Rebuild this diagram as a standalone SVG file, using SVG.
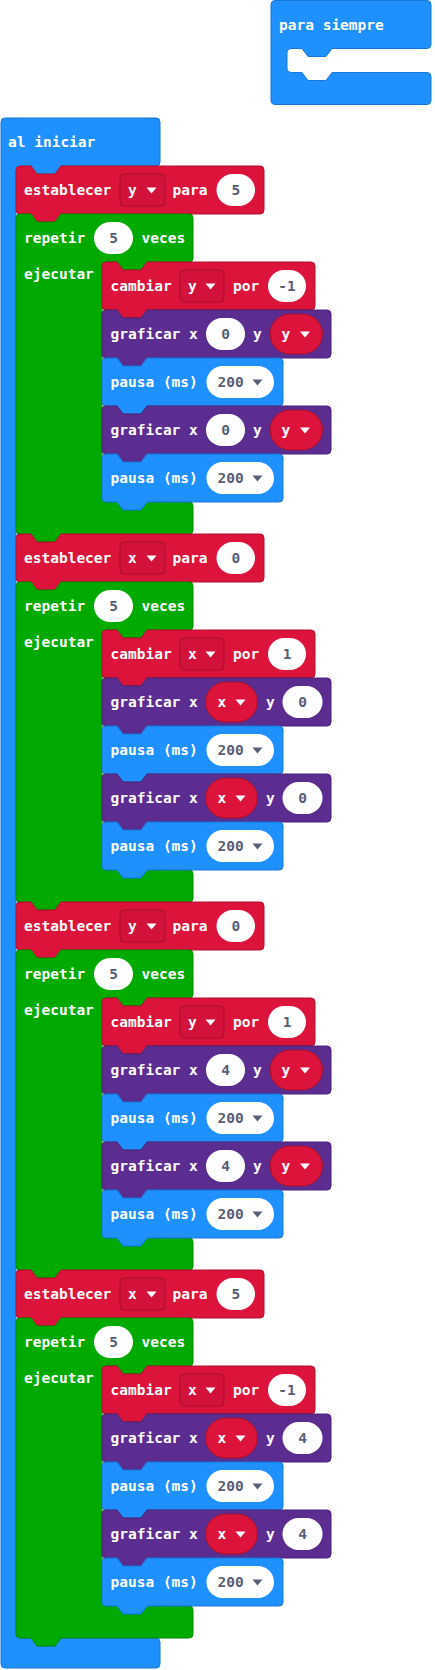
<svg xmlns="http://www.w3.org/2000/svg" xmlns:xlink="http://www.w3.org/1999/xlink" width="435" height="1670" viewBox="0 0 435 1670">
<style>
.t{font-family:"DejaVu Sans Mono","Liberation Mono",monospace;font-size:14.5px;font-weight:bold;fill:#fff}
.n{fill:#575E75}
.m{text-anchor:middle}
.blue{fill:#1E90FF;stroke:#1877D6;stroke-width:1}
.red{fill:#DC143C;stroke:#B0102F;stroke-width:1}
.green{fill:#00AA00;stroke:#008A00;stroke-width:1}
.purple{fill:#5C2D91;stroke:#4A2475;stroke-width:1}
.oval{fill:#fff}
.dd{fill:#D2123A;stroke:#A50F2C;stroke-width:1}
.rep{fill:#DC143C;stroke:#A50F2C;stroke-width:1}
.tw{fill:#fff}
.tg{fill:#575E75}
</style>
<defs>
<path id="sEst" d="M0,4 a4,4 0 0 1 4,-4 H15 l6,8 h18 l6,-8 H244 a4,4 0 0 1 4,4 V44 a4,4 0 0 1 -4,4 H45 l-6,8 h-18 l-6,-8 H4 a4,4 0 0 1 -4,-4 Z"/>
<path id="sCam" d="M0,4 a4,4 0 0 1 4,-4 H15 l6,8 h18 l6,-8 H209 a4,4 0 0 1 4,4 V44 a4,4 0 0 1 -4,4 H45 l-6,8 h-18 l-6,-8 H4 a4,4 0 0 1 -4,-4 Z"/>
<path id="sGra" d="M0,4 a4,4 0 0 1 4,-4 H15 l6,8 h18 l6,-8 H225 a4,4 0 0 1 4,4 V44 a4,4 0 0 1 -4,4 H45 l-6,8 h-18 l-6,-8 H4 a4,4 0 0 1 -4,-4 Z"/>
<path id="sPau" d="M0,4 a4,4 0 0 1 4,-4 H15 l6,8 h18 l6,-8 H177 a4,4 0 0 1 4,4 V44 a4,4 0 0 1 -4,4 H45 l-6,8 h-18 l-6,-8 H4 a4,4 0 0 1 -4,-4 Z"/>
<path id="sRep" d="M0,4 a4,4 0 0 1 4,-4 H15 l6,8 h18 l6,-8 H173 a4,4 0 0 1 4,4 V44 a4,4 0 0 1 -4,4 H131 l-6,8 h-18 l-6,-8 H90 a4,4 0 0 0 -4,4 V284 a4,4 0 0 0 4,4 H101 l6,8 h18 l6,-8 H173 a4,4 0 0 1 4,4 V316 a4,4 0 0 1 -4,4 H45 l-6,8 h-18 l-6,-8 H4 a4,4 0 0 1 -4,-4 Z"/>
</defs>

<g id="para-siempre" transform="translate(271,0.5)">
<path class="blue" d="M0,4 a4,4 0 0 1 4,-4 H156 a4,4 0 0 1 4,4 V44 a4,4 0 0 1 -4,4 H61 l-6,8 h-18 l-6,-8 H20 a4,4 0 0 0 -4,4 V68 a4,4 0 0 0 4,4 H31 l6,8 h18 l6,-8 H156 a4,4 0 0 1 4,4 V100 a4,4 0 0 1 -4,4 H4 a4,4 0 0 1 -4,-4 Z"/>
<text class="t" x="8" y="29.5">para siempre</text>
</g>

<g id="al-iniciar" transform="translate(1,118)">
<path class="blue" d="M0,4 a4,4 0 0 1 4,-4 H155 a4,4 0 0 1 4,4 V44 a4,4 0 0 1 -4,4 H60 l-6,8 h-18 l-6,-8 H19 a4,4 0 0 0 -4,4 V1516 a4,4 0 0 0 4,4 H30 l6,8 h18 l6,-8 H155 a4,4 0 0 1 4,4 V1546 a4,4 0 0 1 -4,4 H4 a4,4 0 0 1 -4,-4 Z"/>
<text class="t" x="7" y="29">al iniciar</text>
</g>

<!-- Group 1 -->
<g id="establecer-1" transform="translate(16,166)">
<use xlink:href="#sEst" class="red"/>
<text class="t" x="8" y="29">establecer</text>
<rect class="dd" x="104" y="8" width="45" height="32" rx="4"/>
<text class="t" x="112" y="29">y</text>
<polygon class="tw" points="130.5,21.5 140.5,21.5 135.5,27.5"/>
<text class="t" x="156.5" y="29">para</text>
<rect class="oval" x="200.5" y="8" width="38.5" height="32" rx="16"/>
<text class="t n m" x="219.8" y="29">5</text>
</g>
<g id="repetir-1" transform="translate(16,214)">
<use xlink:href="#sRep" class="green"/>
<text class="t" x="8" y="29">repetir</text>
<rect class="oval" x="78" y="8" width="39" height="32" rx="16"/>
<text class="t n m" x="97.5" y="29">5</text>
<text class="t" x="125.5" y="29">veces</text>
<text class="t" x="8" y="65">ejecutar</text>
</g>
<g id="cambiar-1" transform="translate(102,262)">
<use xlink:href="#sCam" class="red"/>
<text class="t" x="8.5" y="29">cambiar</text>
<rect class="dd" x="78" y="8" width="44" height="32" rx="4"/>
<text class="t" x="86" y="29">y</text>
<polygon class="tw" points="103.5,21.5 113.5,21.5 108.5,27.5"/>
<text class="t" x="131" y="29">por</text>
<rect class="oval" x="166" y="8" width="38" height="32" rx="16"/>
<text class="t n m" x="185" y="29">-1</text>
</g>
<g id="graficar-1a" transform="translate(102,310)">
<use xlink:href="#sGra" class="purple"/>
<text class="t" x="8.5" y="29">graficar x</text>
<rect class="oval" x="104" y="8" width="39" height="32" rx="16"/>
<text class="t n m" x="123.5" y="29">0</text>
<text class="t" x="151" y="29">y</text>
<rect class="rep" x="168" y="4" width="52.5" height="40" rx="20"/>
<text class="t" x="179.5" y="29">y</text>
<polygon class="tw" points="198,21.5 208,21.5 203,27.5"/>
</g>
<g id="pausa-1a" transform="translate(102,358)">
<use xlink:href="#sPau" class="blue"/>
<text class="t" x="8.5" y="29">pausa (ms)</text>
<rect class="oval" x="104.5" y="8" width="67.5" height="32" rx="16"/>
<text class="t n" x="115.5" y="29">200</text>
<polygon class="tg" points="150.5,21.5 160.5,21.5 155.5,27.5"/>
</g>
<g id="graficar-1b" transform="translate(102,406)">
<use xlink:href="#sGra" class="purple"/>
<text class="t" x="8.5" y="29">graficar x</text>
<rect class="oval" x="104" y="8" width="39" height="32" rx="16"/>
<text class="t n m" x="123.5" y="29">0</text>
<text class="t" x="151" y="29">y</text>
<rect class="rep" x="168" y="4" width="52.5" height="40" rx="20"/>
<text class="t" x="179.5" y="29">y</text>
<polygon class="tw" points="198,21.5 208,21.5 203,27.5"/>
</g>
<g id="pausa-1b" transform="translate(102,454)">
<use xlink:href="#sPau" class="blue"/>
<text class="t" x="8.5" y="29">pausa (ms)</text>
<rect class="oval" x="104.5" y="8" width="67.5" height="32" rx="16"/>
<text class="t n" x="115.5" y="29">200</text>
<polygon class="tg" points="150.5,21.5 160.5,21.5 155.5,27.5"/>
</g>

<!-- Group 2 -->
<g id="establecer-2" transform="translate(16,534)">
<use xlink:href="#sEst" class="red"/>
<text class="t" x="8" y="29">establecer</text>
<rect class="dd" x="104" y="8" width="45" height="32" rx="4"/>
<text class="t" x="112" y="29">x</text>
<polygon class="tw" points="130.5,21.5 140.5,21.5 135.5,27.5"/>
<text class="t" x="156.5" y="29">para</text>
<rect class="oval" x="200.5" y="8" width="38.5" height="32" rx="16"/>
<text class="t n m" x="219.8" y="29">0</text>
</g>
<g id="repetir-2" transform="translate(16,582)">
<use xlink:href="#sRep" class="green"/>
<text class="t" x="8" y="29">repetir</text>
<rect class="oval" x="78" y="8" width="39" height="32" rx="16"/>
<text class="t n m" x="97.5" y="29">5</text>
<text class="t" x="125.5" y="29">veces</text>
<text class="t" x="8" y="65">ejecutar</text>
</g>
<g id="cambiar-2" transform="translate(102,630)">
<use xlink:href="#sCam" class="red"/>
<text class="t" x="8.5" y="29">cambiar</text>
<rect class="dd" x="78" y="8" width="44" height="32" rx="4"/>
<text class="t" x="86" y="29">x</text>
<polygon class="tw" points="103.5,21.5 113.5,21.5 108.5,27.5"/>
<text class="t" x="131" y="29">por</text>
<rect class="oval" x="166" y="8" width="38" height="32" rx="16"/>
<text class="t n m" x="185" y="29">1</text>
</g>
<g id="graficar-2a" transform="translate(102,678)">
<use xlink:href="#sGra" class="purple"/>
<text class="t" x="8.5" y="29">graficar x</text>
<rect class="rep" x="103.5" y="4" width="52" height="40" rx="20"/>
<text class="t" x="115.5" y="29">x</text>
<polygon class="tw" points="133.5,21.5 143.5,21.5 138.5,27.5"/>
<text class="t" x="164" y="29">y</text>
<rect class="oval" x="180.5" y="8" width="40" height="32" rx="16"/>
<text class="t n m" x="200.5" y="29">0</text>
</g>
<g id="pausa-2a" transform="translate(102,726)">
<use xlink:href="#sPau" class="blue"/>
<text class="t" x="8.5" y="29">pausa (ms)</text>
<rect class="oval" x="104.5" y="8" width="67.5" height="32" rx="16"/>
<text class="t n" x="115.5" y="29">200</text>
<polygon class="tg" points="150.5,21.5 160.5,21.5 155.5,27.5"/>
</g>
<g id="graficar-2b" transform="translate(102,774)">
<use xlink:href="#sGra" class="purple"/>
<text class="t" x="8.5" y="29">graficar x</text>
<rect class="rep" x="103.5" y="4" width="52" height="40" rx="20"/>
<text class="t" x="115.5" y="29">x</text>
<polygon class="tw" points="133.5,21.5 143.5,21.5 138.5,27.5"/>
<text class="t" x="164" y="29">y</text>
<rect class="oval" x="180.5" y="8" width="40" height="32" rx="16"/>
<text class="t n m" x="200.5" y="29">0</text>
</g>
<g id="pausa-2b" transform="translate(102,822)">
<use xlink:href="#sPau" class="blue"/>
<text class="t" x="8.5" y="29">pausa (ms)</text>
<rect class="oval" x="104.5" y="8" width="67.5" height="32" rx="16"/>
<text class="t n" x="115.5" y="29">200</text>
<polygon class="tg" points="150.5,21.5 160.5,21.5 155.5,27.5"/>
</g>

<!-- Group 3 -->
<g id="establecer-3" transform="translate(16,902)">
<use xlink:href="#sEst" class="red"/>
<text class="t" x="8" y="29">establecer</text>
<rect class="dd" x="104" y="8" width="45" height="32" rx="4"/>
<text class="t" x="112" y="29">y</text>
<polygon class="tw" points="130.5,21.5 140.5,21.5 135.5,27.5"/>
<text class="t" x="156.5" y="29">para</text>
<rect class="oval" x="200.5" y="8" width="38.5" height="32" rx="16"/>
<text class="t n m" x="219.8" y="29">0</text>
</g>
<g id="repetir-3" transform="translate(16,950)">
<use xlink:href="#sRep" class="green"/>
<text class="t" x="8" y="29">repetir</text>
<rect class="oval" x="78" y="8" width="39" height="32" rx="16"/>
<text class="t n m" x="97.5" y="29">5</text>
<text class="t" x="125.5" y="29">veces</text>
<text class="t" x="8" y="65">ejecutar</text>
</g>
<g id="cambiar-3" transform="translate(102,998)">
<use xlink:href="#sCam" class="red"/>
<text class="t" x="8.5" y="29">cambiar</text>
<rect class="dd" x="78" y="8" width="44" height="32" rx="4"/>
<text class="t" x="86" y="29">y</text>
<polygon class="tw" points="103.5,21.5 113.5,21.5 108.5,27.5"/>
<text class="t" x="131" y="29">por</text>
<rect class="oval" x="166" y="8" width="38" height="32" rx="16"/>
<text class="t n m" x="185" y="29">1</text>
</g>
<g id="graficar-3a" transform="translate(102,1046)">
<use xlink:href="#sGra" class="purple"/>
<text class="t" x="8.5" y="29">graficar x</text>
<rect class="oval" x="104" y="8" width="39" height="32" rx="16"/>
<text class="t n m" x="123.5" y="29">4</text>
<text class="t" x="151" y="29">y</text>
<rect class="rep" x="168" y="4" width="52.5" height="40" rx="20"/>
<text class="t" x="179.5" y="29">y</text>
<polygon class="tw" points="198,21.5 208,21.5 203,27.5"/>
</g>
<g id="pausa-3a" transform="translate(102,1094)">
<use xlink:href="#sPau" class="blue"/>
<text class="t" x="8.5" y="29">pausa (ms)</text>
<rect class="oval" x="104.5" y="8" width="67.5" height="32" rx="16"/>
<text class="t n" x="115.5" y="29">200</text>
<polygon class="tg" points="150.5,21.5 160.5,21.5 155.5,27.5"/>
</g>
<g id="graficar-3b" transform="translate(102,1142)">
<use xlink:href="#sGra" class="purple"/>
<text class="t" x="8.5" y="29">graficar x</text>
<rect class="oval" x="104" y="8" width="39" height="32" rx="16"/>
<text class="t n m" x="123.5" y="29">4</text>
<text class="t" x="151" y="29">y</text>
<rect class="rep" x="168" y="4" width="52.5" height="40" rx="20"/>
<text class="t" x="179.5" y="29">y</text>
<polygon class="tw" points="198,21.5 208,21.5 203,27.5"/>
</g>
<g id="pausa-3b" transform="translate(102,1190)">
<use xlink:href="#sPau" class="blue"/>
<text class="t" x="8.5" y="29">pausa (ms)</text>
<rect class="oval" x="104.5" y="8" width="67.5" height="32" rx="16"/>
<text class="t n" x="115.5" y="29">200</text>
<polygon class="tg" points="150.5,21.5 160.5,21.5 155.5,27.5"/>
</g>

<!-- Group 4 -->
<g id="establecer-4" transform="translate(16,1270)">
<use xlink:href="#sEst" class="red"/>
<text class="t" x="8" y="29">establecer</text>
<rect class="dd" x="104" y="8" width="45" height="32" rx="4"/>
<text class="t" x="112" y="29">x</text>
<polygon class="tw" points="130.5,21.5 140.5,21.5 135.5,27.5"/>
<text class="t" x="156.5" y="29">para</text>
<rect class="oval" x="200.5" y="8" width="38.5" height="32" rx="16"/>
<text class="t n m" x="219.8" y="29">5</text>
</g>
<g id="repetir-4" transform="translate(16,1318)">
<use xlink:href="#sRep" class="green"/>
<text class="t" x="8" y="29">repetir</text>
<rect class="oval" x="78" y="8" width="39" height="32" rx="16"/>
<text class="t n m" x="97.5" y="29">5</text>
<text class="t" x="125.5" y="29">veces</text>
<text class="t" x="8" y="65">ejecutar</text>
</g>
<g id="cambiar-4" transform="translate(102,1366)">
<use xlink:href="#sCam" class="red"/>
<text class="t" x="8.5" y="29">cambiar</text>
<rect class="dd" x="78" y="8" width="44" height="32" rx="4"/>
<text class="t" x="86" y="29">x</text>
<polygon class="tw" points="103.5,21.5 113.5,21.5 108.5,27.5"/>
<text class="t" x="131" y="29">por</text>
<rect class="oval" x="166" y="8" width="38" height="32" rx="16"/>
<text class="t n m" x="185" y="29">-1</text>
</g>
<g id="graficar-4a" transform="translate(102,1414)">
<use xlink:href="#sGra" class="purple"/>
<text class="t" x="8.5" y="29">graficar x</text>
<rect class="rep" x="103.5" y="4" width="52" height="40" rx="20"/>
<text class="t" x="115.5" y="29">x</text>
<polygon class="tw" points="133.5,21.5 143.5,21.5 138.5,27.5"/>
<text class="t" x="164" y="29">y</text>
<rect class="oval" x="180.5" y="8" width="40" height="32" rx="16"/>
<text class="t n m" x="200.5" y="29">4</text>
</g>
<g id="pausa-4a" transform="translate(102,1462)">
<use xlink:href="#sPau" class="blue"/>
<text class="t" x="8.5" y="29">pausa (ms)</text>
<rect class="oval" x="104.5" y="8" width="67.5" height="32" rx="16"/>
<text class="t n" x="115.5" y="29">200</text>
<polygon class="tg" points="150.5,21.5 160.5,21.5 155.5,27.5"/>
</g>
<g id="graficar-4b" transform="translate(102,1510)">
<use xlink:href="#sGra" class="purple"/>
<text class="t" x="8.5" y="29">graficar x</text>
<rect class="rep" x="103.5" y="4" width="52" height="40" rx="20"/>
<text class="t" x="115.5" y="29">x</text>
<polygon class="tw" points="133.5,21.5 143.5,21.5 138.5,27.5"/>
<text class="t" x="164" y="29">y</text>
<rect class="oval" x="180.5" y="8" width="40" height="32" rx="16"/>
<text class="t n m" x="200.5" y="29">4</text>
</g>
<g id="pausa-4b" transform="translate(102,1558)">
<use xlink:href="#sPau" class="blue"/>
<text class="t" x="8.5" y="29">pausa (ms)</text>
<rect class="oval" x="104.5" y="8" width="67.5" height="32" rx="16"/>
<text class="t n" x="115.5" y="29">200</text>
<polygon class="tg" points="150.5,21.5 160.5,21.5 155.5,27.5"/>
</g>

<g id="connectors"/>
</svg>
